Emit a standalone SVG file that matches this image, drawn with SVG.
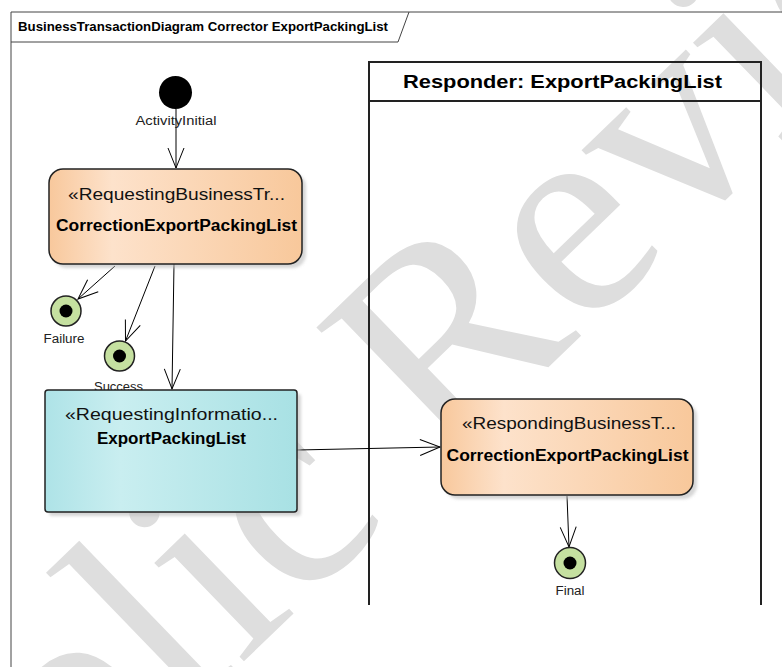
<svg xmlns="http://www.w3.org/2000/svg" width="782" height="667" viewBox="0 0 782 667">
<defs>
<linearGradient id="gOrange" x1="0" y1="0" x2="1" y2="0">
<stop offset="0" stop-color="#f8c89c"/>
<stop offset="0.25" stop-color="#fde2cb"/>
<stop offset="1" stop-color="#f8c89b"/>
</linearGradient>
<linearGradient id="gTeal" x1="0" y1="0" x2="1" y2="0">
<stop offset="0" stop-color="#aee3e7"/>
<stop offset="0.3" stop-color="#c9eef0"/>
<stop offset="1" stop-color="#a8e1e4"/>
</linearGradient>
<filter id="shadow" x="-10%" y="-10%" width="130%" height="130%">
<feGaussianBlur stdDeviation="1.5"/>
</filter>
<marker id="arrow" markerUnits="userSpaceOnUse" markerWidth="24" markerHeight="20" viewBox="-22 -10 24 20" refX="0" refY="0" orient="auto">
<path d="M-20,-8 L0,0 L-20,8" fill="none" stroke="#000" stroke-width="1"/>
</marker>
</defs>
<style>
.lbl{font-family:"Liberation Sans",Arial,sans-serif;font-size:12px;fill:#222;text-anchor:middle}
.st{font-family:"Liberation Sans",Arial,sans-serif;font-size:16px;fill:#111;text-anchor:middle}
.nm{font-family:"Liberation Sans",Arial,sans-serif;font-size:16px;font-weight:bold;fill:#000;text-anchor:middle}
.edge{fill:none;stroke:#000;stroke-width:1;marker-end:url(#arrow)}
.shd{fill:#bbbbbb;opacity:0.6;filter:url(#shadow)}
.final{fill:#c5e0a0;stroke:#222;stroke-width:1.5}
</style>
<rect width="782" height="667" fill="#fff"/>
<text id="watermark" x="0" y="0" transform="translate(-143,1035) rotate(-44)" font-family="'Liberation Serif','Times New Roman',serif" font-size="290" fill="#dedede">Public Review</text>
<g id="frame">
<path d="M11,667 L11,12 L782,12" fill="none" stroke="#444" stroke-width="1"/>
<path d="M11,42 L398,42 L409,12" fill="none" stroke="#444" stroke-width="1"/>
<text x="18" y="31" font-family="'Liberation Sans',Arial,sans-serif" font-size="12" font-weight="bold" fill="#000" textLength="370" lengthAdjust="spacingAndGlyphs">BusinessTransactionDiagram Corrector ExportPackingList</text>
</g>
<g id="lane">
<path d="M369,605 L369,62 L761,62 L761,605" fill="none" stroke="#222" stroke-width="2"/>
<line x1="369" y1="101" x2="761" y2="101" stroke="#222" stroke-width="2"/>
<text x="562.5" y="88" font-family="'Liberation Sans',Arial,sans-serif" font-size="18" font-weight="bold" fill="#000" text-anchor="middle" textLength="319" lengthAdjust="spacingAndGlyphs">Responder: ExportPackingList</text>
</g>
<g id="connectors">
<path class="edge" d="M176,109 L176,168"/>
<path class="edge" d="M115,266 L78,299"/>
<path class="edge" d="M155,266 L125.5,341"/>
<path class="edge" d="M174,264 L172,389"/>
<path class="edge" d="M297,450 L440,447"/>
<path class="edge" d="M567,496 L569,547"/>
</g>
<g id="initial">
<circle cx="175.5" cy="92.5" r="16.5" fill="#000"/>
<text class="lbl" x="176" y="125" textLength="81" lengthAdjust="spacingAndGlyphs">ActivityInitial</text>
</g>
<g id="failure">
<circle class="final" cx="66" cy="311" r="15"/>
<circle cx="66" cy="311" r="6.5" fill="#000"/>
<text class="lbl" x="64" y="343" textLength="41" lengthAdjust="spacingAndGlyphs">Failure</text>
</g>
<g id="success">
<circle class="final" cx="119.5" cy="356" r="15"/>
<circle cx="119.5" cy="356" r="6.5" fill="#000"/>
<text class="lbl" x="118.5" y="390.5" textLength="49" lengthAdjust="spacingAndGlyphs">Success</text>
</g>
<g id="node1">
<rect class="shd" x="53" y="173" width="253" height="95" rx="14"/>
<rect x="49" y="169" width="253" height="95" rx="14" fill="url(#gOrange)" stroke="#222" stroke-width="1.5"/>
<text class="st" x="176.5" y="200" textLength="217" lengthAdjust="spacingAndGlyphs">«RequestingBusinessTr...</text>
<text class="nm" x="176.5" y="231" textLength="241" lengthAdjust="spacingAndGlyphs">CorrectionExportPackingList</text>
</g>
<g id="node2">
<rect class="shd" x="49" y="394" width="252" height="122" rx="3"/>
<rect x="45" y="390" width="252" height="122" rx="3" fill="url(#gTeal)" stroke="#222" stroke-width="1.5"/>
<text class="st" x="171.5" y="419.5" textLength="213" lengthAdjust="spacingAndGlyphs">«RequestingInformatio...</text>
<text class="nm" x="171.5" y="443.5" textLength="149" lengthAdjust="spacingAndGlyphs">ExportPackingList</text>
</g>
<g id="node3">
<rect class="shd" x="445" y="403" width="252" height="96" rx="14"/>
<rect x="441" y="399" width="252" height="96" rx="14" fill="url(#gOrange)" stroke="#222" stroke-width="1.5"/>
<text class="st" x="569" y="428.5" textLength="214" lengthAdjust="spacingAndGlyphs">«RespondingBusinessT...</text>
<text class="nm" x="567.5" y="461" textLength="242" lengthAdjust="spacingAndGlyphs">CorrectionExportPackingList</text>
</g>
<g id="final">
<circle class="final" cx="570" cy="563" r="15.5"/>
<circle cx="570" cy="563" r="6.5" fill="#000"/>
<text class="lbl" x="570" y="595" textLength="29" lengthAdjust="spacingAndGlyphs">Final</text>
</g>
</svg>
